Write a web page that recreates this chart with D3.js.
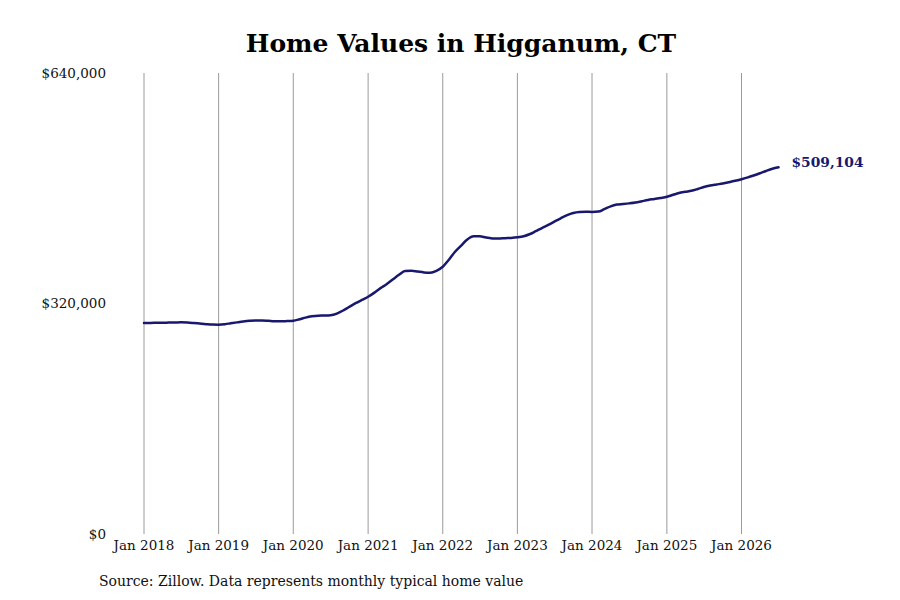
<!DOCTYPE html>
<html>
<head>
<meta charset="utf-8">
<script src="https://cdn.jsdelivr.net/npm/d3@7"></script>
<style>
  body { margin: 0; background: #fff; }
  text { font-family: "DejaVu Serif", serif; }
</style>
</head>
<body>
<div id="js_chart"></div>
<script>
// Monthly typical home value, Jan 2018 .. Jul 2026
const startMonth = "2018-01";
const homeValues = [
  292900, 293000, 293200, 293300, 293500, 293700, 293900, 293600, 292900, 292100, 291300, 290700,
  290600, 291300, 292500, 293800, 295000, 296000, 296500, 296500, 296000, 295400, 295300, 295600,
  296100, 298100, 300400, 302200, 303100, 303300, 303700, 306000, 310300, 315400, 320400, 324900,
  329400, 335100, 341000, 346700, 353200, 359800, 365100, 365500, 364300, 363200, 362800, 365400,
  371000, 381100, 391500, 400500, 408900, 413300, 413200, 411500, 410400, 410100, 410700, 411100,
  411900, 413400, 416100, 420400, 424800, 429000, 433600, 438300, 442600, 445600, 447000, 447300,
  447200, 447600, 450900, 454900, 457300, 458100, 459000, 460200, 462000, 463700, 465100, 466500,
  468100, 470900, 473400, 475100, 476500, 479000, 481700, 483700, 485200, 486600, 488400, 490300,
  492600, 495100, 497700, 500800, 504000, 507000, 509104
];
const yTicks = [0, 320000, 640000];
const xTickYears = [2018, 2019, 2020, 2021, 2022, 2023, 2024, 2025, 2026];
const title = "Home Values in Higganum, CT";
const source = "Source: Zillow. Data represents monthly typical home value";

const width = 900, height = 600;
const parseMonth = d3.timeParse("%Y-%m");
const t0 = parseMonth(startMonth);
const data = homeValues.map(function (v, i) {
    return { date: d3.timeMonth.offset(t0, i), value: v };
});

const x = d3.scaleTime()
    .domain([new Date(2018, 0, 1), new Date(2026, 0, 1)])
    .range([144, 741.5]);

const y = d3.scaleLinear()
    .domain([0, 640000])
    .range([534, 73]);

const svg = d3.select("#js_chart")
    .append("svg")
    .attr("width", width)
    .attr("height", height);

// Title
svg.append("text")
    .attr("x", 461)
    .attr("y", 52)
    .attr("text-anchor", "middle")
    .style("font-size", "25px")
    .style("font-weight", "bold")
    .attr("fill", "#000")
    .text(title);

// Vertical grid at each January
const xTicks = xTickYears.map(function (yr) { return new Date(yr, 0, 1); });
svg.append("g")
    .selectAll("line")
    .data(xTicks)
    .enter().append("line")
    .attr("x1", function (d) { return x(d); })
    .attr("x2", function (d) { return x(d); })
    .attr("y1", y(640000))
    .attr("y2", y(0))
    .attr("stroke", "#9a9a9a")
    .attr("stroke-width", 1);

// X labels
svg.append("g")
    .selectAll("text")
    .data(xTicks)
    .enter().append("text")
    .attr("x", function (d) { return x(d); })
    .attr("y", 550)
    .attr("text-anchor", "middle")
    .style("font-size", "13.5px")
    .attr("fill", "#111")
    .text(d3.timeFormat("Jan %Y"));

// Y labels
const fmt = d3.format("$,.0f");
svg.append("g")
    .selectAll("text")
    .data(yTicks)
    .enter().append("text")
    .attr("x", 106)
    .attr("y", function (d) { return y(d); })
    .attr("dy", "0.35em")
    .attr("text-anchor", "end")
    .style("font-size", "13.5px")
    .attr("fill", "#111")
    .text(fmt);

// Line
const line = d3.line()
    .x(function (d) { return x(d.date); })
    .y(function (d) { return y(d.value); })
    .curve(d3.curveMonotoneX);

svg.append("path")
    .datum(data)
    .attr("d", line)
    .attr("fill", "none")
    .attr("stroke", "#18186e")
    .attr("stroke-width", 2.5)
    .attr("stroke-linejoin", "round")
    .attr("stroke-linecap", "round");

// End label
const last = data[data.length - 1];
svg.append("text")
    .attr("x", x(last.date) + 13)
    .attr("y", y(last.value) - 5)
    .attr("dy", "0.35em")
    .style("font-size", "13.8px")
    .style("font-weight", "bold")
    .attr("fill", "#18186e")
    .text(fmt(last.value));

// Source
svg.append("text")
    .attr("x", 99)
    .attr("y", 586)
    .style("font-size", "14px")
    .attr("fill", "#111")
    .text(source);
</script>
</body>
</html>
